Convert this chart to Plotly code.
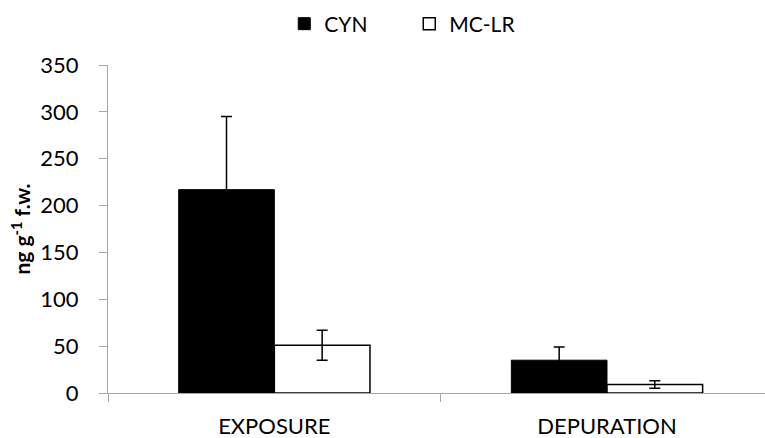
import plotly.graph_objects as go

categories = ["EXPOSURE", "DEPURATION"]
cyn_values = [217, 35]
cyn_errors = [78, 14]
mclr_values = [51, 9]
mclr_errors = [16, 4]

fig = go.Figure()
fig.add_trace(go.Bar(
    name="CYN", x=categories, y=cyn_values,
    marker=dict(color="black", line=dict(color="black", width=1)),
    error_y=dict(type="data", array=cyn_errors, visible=True, color="black", thickness=1.5, width=5.5),
))
fig.add_trace(go.Bar(
    name="MC-LR", x=categories, y=mclr_values,
    marker=dict(color="white", line=dict(color="black", width=1.5)),
    error_y=dict(type="data", array=mclr_errors, visible=True, color="black", thickness=1.5, width=5.5),
))

font = "Lato, 'Noto Sans', sans-serif"
fig.update_layout(
    width=765, height=438,
    margin=dict(l=108, r=0, t=65, b=45),
    paper_bgcolor="white", plot_bgcolor="white",
    barmode="group", bargap=0.425, bargroupgap=0,
    font=dict(family=font, size=21, color="black"),
    legend=dict(orientation="h", xref="container", x=0.535, xanchor="center",
                yref="container", y=1 - 24 / 438, yanchor="middle",
                font=dict(family=font, size=21, color="black"), entrywidth=80, itemwidth=30),
    showlegend=True,
)
fig.update_xaxes(
    range=[-0.5, 1.475], showline=True, linecolor="#a6a6a6", linewidth=1,
    ticks="outside", tickson="boundaries", ticklen=8, tickcolor="#a6a6a6",
    tickfont=dict(family=font, size=22, color="black"), ticklabelstandoff=14, showgrid=False,
)
fig.update_yaxes(
    range=[0, 350], dtick=50, showline=True, linecolor="#a6a6a6", linewidth=1,
    ticks="outside", ticklen=8, tickcolor="#a6a6a6", showgrid=False, zeroline=False,
    tickfont=dict(family=font, size=22, color="black"), ticklabelstandoff=16,
    title=dict(text="<b>ng g<sup>-1</sup> f.w.</b>", font=dict(family=font, size=21, color="black"), standoff=3),
)
fig.write_html("out.html")
